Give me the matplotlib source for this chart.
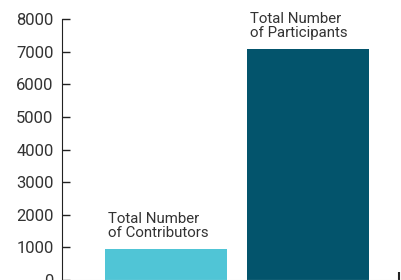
import matplotlib
matplotlib.use("Agg")
import matplotlib.pyplot as plt

# Daten
categories = ["Total Number\nof Contributors", "Total Number\nof Participants"]
values = [950, 7080]
colors = ["#50C5D6", "#03546C"]
yticks = [0, 1000, 2000, 3000, 4000, 5000, 6000, 7000, 8000]

plt.rcParams["font.family"] = ["Roboto", "DejaVu Sans"]
text_col = "#333333"

fig = plt.figure(figsize=(4.02, 2.8), dpi=100)
ax = fig.add_axes([62 / 402, 0.0, 1 - 62 / 402, 1 - 19 / 280])

pos = list(range(len(values)))
width = 122 / 142
ax.bar(pos, values, width=width, color=colors)

for x, v, lab in zip(pos, values, categories):
    ax.annotate(lab, xy=(x - width / 2, v), xytext=(2.5, 6.5), textcoords="offset points",
                ha="left", va="bottom", fontsize=10.8, color=text_col, linespacing=1.0)

ax.set_ylim(0, 8000)
ax.set_xlim(-(166 - 62) / 142, 1 + (402 - 308) / 142)
ax.set_yticks(yticks)
ax.set_yticklabels([str(t) for t in yticks])
ax.tick_params(axis="y", direction="in", length=6, width=1, color="#222222",
               labelsize=12, labelcolor=text_col, pad=6)
ax.set_xticks([(399 - 166) / 142])
ax.set_xticklabels([""])
ax.tick_params(axis="x", direction="in", length=6, width=1.5, color="#222222")

ax.spines["top"].set_visible(False)
ax.spines["right"].set_visible(False)
ax.spines["left"].set_color("#222222")
ax.spines["bottom"].set_color("#e6e6e6")

fig.savefig("out.png", dpi=100)
